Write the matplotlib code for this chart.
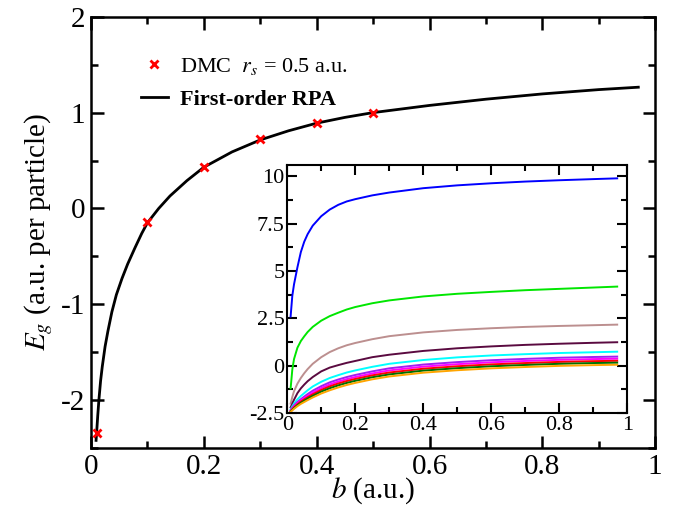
import matplotlib
matplotlib.use("Agg")
import matplotlib.pyplot as plt
from matplotlib.ticker import MultipleLocator, FuncFormatter

plt.rcParams['font.family'] = ['Liberation Serif', 'DejaVu Serif']
plt.rcParams['mathtext.fontset'] = 'stix'

# main panel: DMC points and first-order RPA curve
dmc_b = [0.01, 0.1, 0.2, 0.3, 0.4, 0.5]
dmc_e = [-2.34, -0.14, 0.43, 0.72, 0.89, 1.0]

rpa_b = [0.009, 0.01, 0.012, 0.014, 0.017, 0.02, 0.025, 0.03, 0.037, 0.045, 0.055,
         0.065, 0.078, 0.09, 0.1, 0.12, 0.14, 0.17, 0.2, 0.25, 0.3, 0.35, 0.4,
         0.45, 0.5, 0.6, 0.7, 0.8, 0.9, 0.97]
rpa_e = [-2.42, -2.34, -2.16, -2.0, -1.8, -1.65, -1.44, -1.28, -1.08, -0.9, -0.73,
         -0.58, -0.41, -0.26, -0.15, 0.0, 0.13, 0.29, 0.43, 0.59, 0.715, 0.81, 0.89,
         0.95, 1.0, 1.075, 1.14, 1.195, 1.24, 1.265]

# inset: family of curves
inset_b = [0.01, 0.015, 0.02, 0.03, 0.04, 0.05, 0.06, 0.075, 0.1, 0.125, 0.15,
           0.175, 0.2, 0.25, 0.3, 0.4, 0.5, 0.6, 0.7, 0.8, 0.9, 0.97]
inset_curves = {
    '#0000ff': [2.6, 3.7, 4.3, 5.2, 6.0, 6.55, 6.95, 7.4, 7.9, 8.25, 8.5,
                8.68, 8.8, 9.0, 9.15, 9.38, 9.53, 9.64, 9.73, 9.8, 9.86, 9.9],
    '#00e600': [-1.2, -0.2, 0.35, 0.95, 1.3, 1.55, 1.78, 2.05, 2.38, 2.62, 2.8,
                2.97, 3.1, 3.3, 3.45, 3.66, 3.8, 3.9, 3.99, 4.06, 4.13, 4.18],
    '#bc8f8f': [-2.0, -1.65, -1.35, -0.95, -0.65, -0.4, -0.18, 0.1, 0.45, 0.72, 0.92,
                1.08, 1.2, 1.4, 1.56, 1.76, 1.89, 1.98, 2.05, 2.1, 2.14, 2.17],
    '#5a0a40': [-2.2, -2.0, -1.8, -1.45, -1.2, -1.0, -0.82, -0.6, -0.3, -0.1, 0.03,
                0.15, 0.25, 0.45, 0.58, 0.78, 0.92, 1.02, 1.1, 1.16, 1.21, 1.24],
    '#00ffff': [-2.3, -2.15, -2.0, -1.78, -1.6, -1.45, -1.3, -1.1, -0.85, -0.65, -0.5,
                -0.36, -0.25, -0.06, 0.1, 0.3, 0.44, 0.54, 0.61, 0.67, 0.71, 0.74],
    '#a020f0': [-2.35, -2.22, -2.1, -1.92, -1.77, -1.63, -1.5, -1.32, -1.08, -0.88, -0.73,
                -0.6, -0.49, -0.3, -0.14, 0.06, 0.19, 0.29, 0.36, 0.42, 0.46, 0.48],
    '#ff00ff': [-2.38, -2.26, -2.15, -1.98, -1.84, -1.71, -1.59, -1.42, -1.18, -0.99, -0.84,
                -0.71, -0.6, -0.41, -0.25, -0.05, 0.08, 0.18, 0.25, 0.31, 0.35, 0.37],
    '#ff0000': [-2.4, -2.3, -2.2, -2.04, -1.9, -1.78, -1.67, -1.51, -1.28, -1.09, -0.94,
                -0.81, -0.7, -0.51, -0.36, -0.16, -0.03, 0.07, 0.14, 0.2, 0.24, 0.26],
    '#007000': [-2.42, -2.33, -2.24, -2.09, -1.96, -1.85, -1.74, -1.59, -1.37, -1.19, -1.04,
                -0.91, -0.8, -0.61, -0.46, -0.26, -0.13, -0.03, 0.04, 0.1, 0.14, 0.16],
    '#ffa500': [-2.44, -2.36, -2.28, -2.14, -2.02, -1.92, -1.82, -1.68, -1.47, -1.3, -1.15,
                -1.02, -0.91, -0.72, -0.57, -0.37, -0.24, -0.14, -0.07, -0.01, 0.03, 0.05],
}


def num_fmt(v, pos):
    s = '%g' % round(v, 3)
    return '0' if s == '-0' else s


fig = plt.figure(figsize=(6.79, 5.08), dpi=100)
ax = fig.add_axes([0.134, 0.118, 0.831, 0.849])

ax.plot(rpa_b, rpa_e, color='black', lw=2.0, label='First-order RPA', zorder=2)
ax.plot(dmc_b, dmc_e, 'x', color='red', ms=6, mew=2.0,
        label='DMC  $r_s$ = 0.5 a.u.', zorder=3)

ax.set_xlim(0, 1)
ax.set_ylim(-2.5, 2)
ax.xaxis.set_major_locator(MultipleLocator(0.2))
ax.xaxis.set_minor_locator(MultipleLocator(0.1))
ax.yaxis.set_major_locator(MultipleLocator(1))
ax.yaxis.set_minor_locator(MultipleLocator(0.5))
ax.xaxis.set_major_formatter(FuncFormatter(num_fmt))
ax.yaxis.set_major_formatter(FuncFormatter(num_fmt))
ax.tick_params(which='both', direction='in', top=True, right=True, width=1.8)
ax.tick_params(which='major', length=9, labelsize=21, pad=4)
ax.tick_params(which='minor', length=5)
for sp in ax.spines.values():
    sp.set_linewidth(1.8)

ax.set_xlabel('$b$ (a.u.)', fontsize=21, labelpad=-3)
ax.set_ylabel('$E_g$ (a.u. per particle)', fontsize=21, labelpad=4)

h, l = ax.get_legend_handles_labels()
leg = ax.legend(h[::-1], l[::-1], loc='upper left', bbox_to_anchor=(0.053, 0.955),
                frameon=False, fontsize=16, handlelength=1.2, handletextpad=0.55,
                labelspacing=0.55)
leg.get_texts()[1].set_fontweight('bold')

# inset
ins = fig.add_axes([0.423, 0.187, 0.501, 0.488])
for col, vals in inset_curves.items():
    ins.plot(inset_b, vals, color=col, lw=1.4)
ins.set_xlim(0, 1)
ins.set_ylim(-2.5, 10.6)
ins.xaxis.set_major_locator(MultipleLocator(0.2))
ins.xaxis.set_minor_locator(MultipleLocator(0.1))
ins.yaxis.set_major_locator(MultipleLocator(2.5))
ins.yaxis.set_minor_locator(MultipleLocator(1.25))
ins.xaxis.set_major_formatter(FuncFormatter(num_fmt))
ins.yaxis.set_major_formatter(FuncFormatter(num_fmt))
ins.tick_params(which='both', direction='in', top=True, right=True, width=1.5)
ins.tick_params(which='major', length=7, labelsize=16, pad=2)
ins.tick_params(which='minor', length=4)
for sp in ins.spines.values():
    sp.set_linewidth(1.5)

fig.savefig('out.png', dpi=100)
